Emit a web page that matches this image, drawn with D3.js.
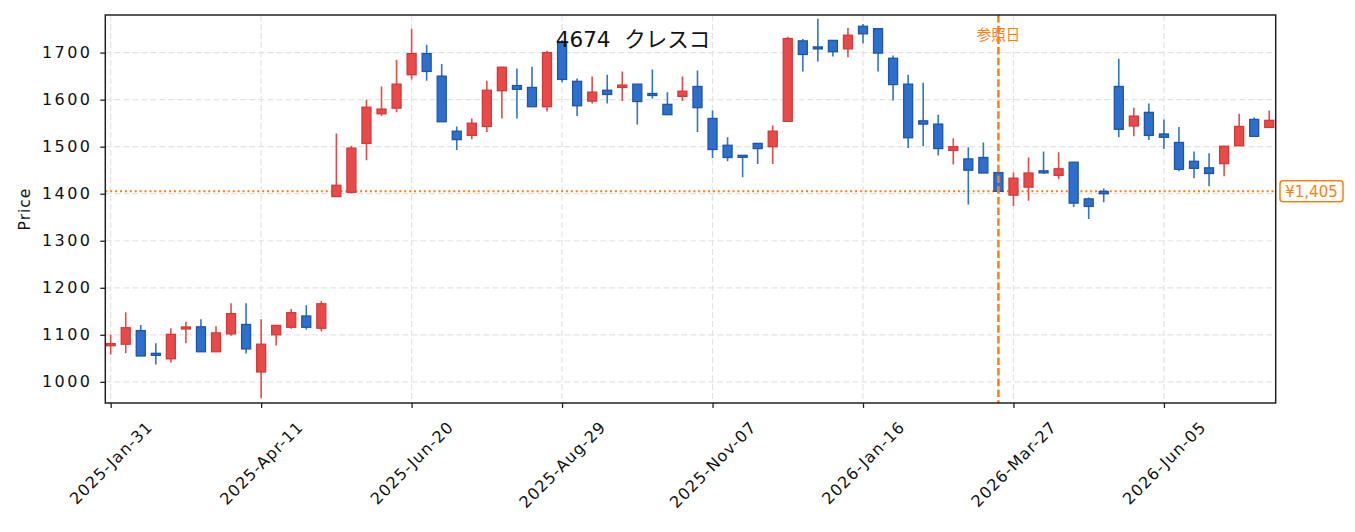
<!DOCTYPE html>
<html>
<head>
<meta charset="utf-8">
<script src="https://cdn.jsdelivr.net/npm/d3@7"></script>
<style>
  html, body { margin: 0; padding: 0; background: #ffffff; }
  svg { display: block; }
  text { font-family: "DejaVu Sans", "Noto Sans CJK JP", sans-serif; }
</style>
</head>
<body>
<svg id="chart" width="1355" height="532"></svg>
<script>
// ---- data ----
const titleText = "4674  クレスコ";
const dates = [
  "2025-01-31","2025-02-07","2025-02-14","2025-02-21","2025-02-28","2025-03-07","2025-03-14","2025-03-21","2025-03-28","2025-04-04",
  "2025-04-11","2025-04-18","2025-04-25","2025-05-02","2025-05-09","2025-05-16","2025-05-23","2025-05-30","2025-06-06","2025-06-13",
  "2025-06-20","2025-06-27","2025-07-04","2025-07-11","2025-07-18","2025-07-25","2025-08-01","2025-08-08","2025-08-15","2025-08-22",
  "2025-08-29","2025-09-05","2025-09-12","2025-09-19","2025-09-26","2025-10-03","2025-10-10","2025-10-17","2025-10-24","2025-10-31",
  "2025-11-07","2025-11-14","2025-11-21","2025-11-28","2025-12-05","2025-12-12","2025-12-19","2025-12-26","2026-01-02","2026-01-09",
  "2026-01-16","2026-01-23","2026-01-30","2026-02-06","2026-02-13","2026-02-20","2026-02-27","2026-03-06","2026-03-13","2026-03-20",
  "2026-03-27","2026-04-03","2026-04-10","2026-04-17","2026-04-24","2026-05-01","2026-05-08","2026-05-15","2026-05-22","2026-05-29",
  "2026-06-05","2026-06-12","2026-06-19","2026-06-26","2026-07-03","2026-07-10","2026-07-17","2026-07-24"
];
const openV = [
  1078,1080,1109,1060,1049,1113,1117,1064,1102,1122,
  1021,1100,1116,1140,1114,1394,1403,1507,1570,1582,
  1653,1698,1650,1533,1524,1543,1619,1630,1626,1585,
  1722,1639,1597,1620,1626,1633,1613,1590,1607,1628,
  1560,1503,1481,1507,1500,1554,1725,1711,1726,1708,
  1756,1751,1688,1633,1555,1548,1492,1474,1477,1445,
  1397,1414,1448,1439,1467,1389,1405,1628,1544,1573,
  1527,1509,1469,1455,1464,1502,1558,1541
];
const highV = [
  1100,1148,1121,1082,1114,1128,1133,1118,1167,1167,
  1133,1120,1155,1163,1172,1528,1502,1600,1628,1685,
  1751,1717,1676,1543,1560,1640,1670,1666,1670,1704,
  1727,1645,1649,1653,1660,1633,1664,1616,1649,1662,
  1577,1520,1481,1507,1545,1734,1729,1772,1726,1753,
  1761,1751,1694,1653,1636,1568,1518,1499,1509,1445,
  1445,1477,1490,1488,1467,1392,1411,1687,1583,1592,
  1558,1542,1490,1486,1501,1570,1562,1577
];
const lowV = [
  1058,1061,1055,1037,1041,1082,1064,1064,1098,1060,
  965,1077,1113,1111,1107,1394,1401,1471,1565,1573,
  1643,1640,1553,1493,1516,1531,1560,1560,1585,1575,
  1637,1565,1592,1592,1597,1547,1602,1568,1597,1531,
  1476,1469,1435,1463,1463,1554,1660,1681,1692,1690,
  1720,1660,1598,1497,1501,1481,1462,1377,1444,1402,
  1374,1385,1442,1431,1372,1346,1382,1520,1522,1514,
  1495,1448,1433,1416,1437,1502,1522,1541
];
const closeV = [
  1080,1115,1055,1057,1101,1116,1064,1104,1145,1070,
  1080,1120,1147,1116,1166,1418,1497,1584,1580,1633,
  1698,1660,1553,1515,1550,1620,1669,1622,1585,1700,
  1643,1587,1616,1611,1631,1596,1609,1568,1618,1583,
  1494,1477,1478,1496,1533,1730,1696,1709,1702,1737,
  1740,1699,1632,1519,1548,1496,1500,1450,1444,1405,
  1433,1444,1445,1453,1380,1373,1400,1537,1565,1524,
  1520,1452,1454,1443,1501,1543,1522,1556
];
const yTicks = [1000, 1100, 1200, 1300, 1400, 1500, 1600, 1700];
const xTickDates = ["2025-01-31","2025-04-11","2025-06-20","2025-08-29","2025-11-07","2026-01-16","2026-03-27","2026-06-05"];
const refDate = "2026-03-20";
const refPrice = 1405;
const refLabel = "参照日";
const yLabel = "Price";

// ---- layout ----
const W = 1355, H = 532;
const plot = { left: 105.3, right: 1275.7, top: 15, bottom: 403 };
const upFill = "#e84a4a", upEdge = "#d23a3a";
const downFill = "#2d6fcb", downEdge = "#1f56a8";
const orange = "#ff7f0e";

const parse = d3.utcParse("%Y-%m-%d");
const fmt = d3.utcFormat("%Y-%b-%d");
const data = dates.map((d, i) => ({ date: parse(d), o: openV[i], h: highV[i], l: lowV[i], c: closeV[i] }));

const x = d3.scaleUtc()
  .domain([d3.utcHour.offset(data[0].date, -60), d3.utcHour.offset(data[data.length - 1].date, 72)])
  .range([plot.left, plot.right]);
const y = d3.scaleLinear().domain([955, 1780]).range([plot.bottom, plot.top]);

const svg = d3.select("#chart");
svg.append("rect").attr("width", W).attr("height", H).attr("fill", "#fff");

const defs = svg.append("defs");
defs.append("clipPath").attr("id", "clip").append("rect")
  .attr("x", plot.left).attr("y", plot.top)
  .attr("width", plot.right - plot.left).attr("height", plot.bottom - plot.top);

// grid
const xt = xTickDates.map(parse);
const grid = svg.append("g");
grid.selectAll("line.gx").data(xt).join("line")
  .attr("x1", d => x(d)).attr("x2", d => x(d))
  .attr("y1", plot.top).attr("y2", plot.bottom)
  .attr("stroke", "#e3e3e3").attr("stroke-width", 1.2).attr("stroke-dasharray", "6,3");
grid.selectAll("line.gy").data(yTicks).join("line")
  .attr("x1", plot.left).attr("x2", plot.right)
  .attr("y1", d => y(d)).attr("y2", d => y(d))
  .attr("stroke", "#e3e3e3").attr("stroke-width", 1.2).attr("stroke-dasharray", "6,3");

// reference horizontal line
svg.append("line")
  .attr("x1", plot.left).attr("x2", plot.right)
  .attr("y1", y(refPrice)).attr("y2", y(refPrice))
  .attr("stroke", orange).attr("stroke-width", 2).attr("stroke-dasharray", "2,2.9");

// candles
const bodyW = 9;
const cg = svg.append("g").attr("clip-path", "url(#clip)");
const candles = cg.selectAll("g.c").data(data).join("g");
candles.append("line")
  .attr("x1", d => x(d.date)).attr("x2", d => x(d.date))
  .attr("y1", d => y(d.h)).attr("y2", d => y(d.l))
  .attr("stroke", d => d.c >= d.o ? upFill : "#2e76c8")
  .attr("stroke-width", 1.6);
candles.append("rect")
  .attr("x", d => x(d.date) - bodyW / 2)
  .attr("width", bodyW)
  .attr("y", d => {
    const t = y(Math.max(d.o, d.c)), b = y(Math.min(d.o, d.c));
    return (b - t < 2) ? (t + b) / 2 - 1 : t;
  })
  .attr("height", d => Math.max(2, y(Math.min(d.o, d.c)) - y(Math.max(d.o, d.c))))
  .attr("fill", d => d.c >= d.o ? upFill : downFill)
  .attr("stroke", d => d.c >= d.o ? upEdge : downEdge)
  .attr("stroke-width", 1.3);

// reference vertical line
const rx = x(parse(refDate));
svg.append("line")
  .attr("x1", rx).attr("x2", rx).attr("y1", plot.top).attr("y2", plot.bottom)
  .attr("stroke", orange).attr("stroke-width", 2.5).attr("stroke-dasharray", "7.5,3.2");
svg.append("text")
  .attr("x", rx).attr("y", 40)
  .attr("text-anchor", "middle")
  .attr("fill", orange)
  .attr("font-size", 14.5)
  .style("font-family", "'Noto Sans CJK JP', sans-serif")
  .text(refLabel);

// frame
svg.append("rect")
  .attr("x", plot.left).attr("y", plot.top)
  .attr("width", plot.right - plot.left).attr("height", plot.bottom - plot.top)
  .attr("fill", "none").attr("stroke", "#222").attr("stroke-width", 1.5);

// axes
const xAxis = svg.append("g").attr("transform", `translate(0,${plot.bottom})`)
  .call(d3.axisBottom(x).tickValues(xt).tickFormat(fmt).tickSize(5).tickSizeOuter(0));
xAxis.select(".domain").remove();
xAxis.selectAll(".tick line").attr("stroke", "#222").attr("stroke-width", 1.3);
xAxis.selectAll(".tick text")
  .attr("fill", "#111")
  .attr("font-size", 16)
  .style("letter-spacing", "1px")
  .attr("text-anchor", "middle")
  .attr("dy", null)
  .attr("y", 0)
  .attr("dominant-baseline", "central")
  .each(function () {
    const L = this.getComputedTextLength();
    const hh = (L * 0.7071 + 12 * 0.7071) / 2;
    d3.select(this).attr("transform", `translate(0,${17 + hh}) rotate(-45)`);
  });

const yAxis = svg.append("g").attr("transform", `translate(${plot.left},0)`)
  .call(d3.axisLeft(y).tickValues(yTicks).tickFormat(d3.format("d")).tickSize(5).tickPadding(8).tickSizeOuter(0));
yAxis.select(".domain").remove();
yAxis.selectAll(".tick line").attr("stroke", "#222").attr("stroke-width", 1.3);
yAxis.selectAll(".tick text").attr("fill", "#111").attr("font-size", 16).style("letter-spacing", "2.4px");

// y label
svg.append("text")
  .attr("transform", `translate(30,${(plot.top + plot.bottom) / 2}) rotate(-90)`)
  .attr("text-anchor", "middle")
  .attr("fill", "#111")
  .attr("font-size", 15.5)
  .style("letter-spacing", "1px")
  .text(yLabel);

// title
svg.append("text")
  .attr("x", 633).attr("y", 47)
  .attr("text-anchor", "middle")
  .attr("fill", "#111")
  .attr("font-size", 21.5)
  .style("white-space", "pre")
  .text(titleText);

// price badge
const by = y(refPrice);
svg.append("rect")
  .attr("x", 1280).attr("y", by - 10.5).attr("width", 63).attr("height", 21).attr("rx", 3)
  .attr("fill", "#fff").attr("stroke", orange).attr("stroke-width", 1.5);
svg.append("text")
  .attr("x", 1311.5).attr("y", by + 5.5)
  .attr("text-anchor", "middle")
  .attr("fill", orange)
  .attr("font-size", 15)
  .text("¥" + d3.format(",")(refPrice));
</script>
</body>
</html>
